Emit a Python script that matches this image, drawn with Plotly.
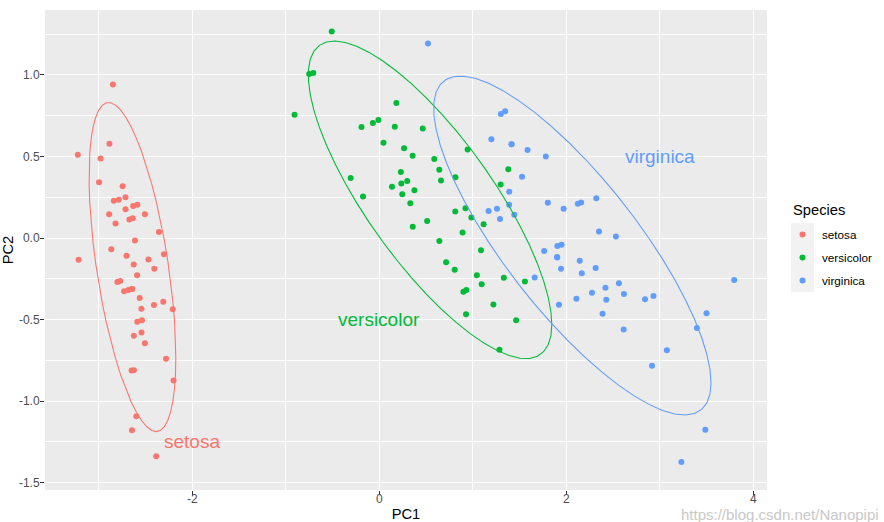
import numpy as np
import plotly.graph_objects as go

# ---------------- data (PC scores) ----------------
species = ["setosa", "versicolor", "virginica"]
colors = ["#F8766D", "#00BA38", "#619CFF"]

setosa_pc1 = [-2.684, -2.714, -2.889, -2.745, -2.729, -2.281, -2.821, -2.626, -2.886, -2.673,
              -2.507, -2.613, -2.786, -3.224, -2.645, -2.386, -2.624, -2.648, -2.200, -2.588,
              -2.310, -2.544, -3.216, -2.303, -2.356, -2.507, -2.469, -2.562, -2.640, -2.632,
              -2.587, -2.410, -2.649, -2.599, -2.637, -2.866, -2.625, -2.801, -2.981, -2.590,
              -2.770, -2.849, -2.997, -2.406, -2.209, -2.714, -2.538, -2.839, -2.543, -2.703]
setosa_pc2 = [-0.319, 0.177, 0.145, 0.318, -0.327, -0.741, 0.089, -0.163, 0.578, 0.114,
              -0.645, -0.015, 0.235, 0.511, -1.179, -1.338, -0.811, -0.312, -0.873, -0.514,
              -0.391, -0.433, -0.133, -0.099, 0.037, 0.146, -0.131, -0.368, -0.312, 0.197,
              0.204, -0.411, -0.813, -1.093, 0.121, -0.069, -0.599, -0.269, 0.488, -0.229,
              -0.264, 0.941, 0.342, -0.189, -0.437, 0.250, -0.504, 0.228, -0.579, -0.108]

versicolor_pc1 = [1.285, 0.932, 1.464, 0.183, 1.088, 0.642, 1.095, -0.749, 1.044, -0.009,
                  -0.508, 0.512, 0.265, 0.985, -0.174, 0.928, 0.660, 0.236, 0.945, 0.045,
                  1.116, 0.358, 1.298, 0.922, 0.715, 0.900, 1.332, 1.558, 0.813, -0.306,
                  -0.068, -0.190, 0.136, 1.380, 0.588, 0.807, 1.221, 0.815, 0.246, 0.166,
                  0.465, 0.891, 0.231, -0.705, 0.357, 0.332, 0.376, 0.643, -0.906, 0.299]
versicolor_pc2 = [-0.685, -0.318, -0.504, 0.828, -0.075, 0.418, -0.283, 1.005, -0.228, 0.723,
                  1.266, 0.104, 0.550, 0.125, 0.255, -0.467, 0.353, 0.334, 0.543, 0.584,
                  0.085, 0.069, 0.328, 0.183, -0.149, -0.329, -0.244, -0.267, 0.163, 0.368,
                  0.705, 0.680, 0.314, 0.421, 0.484, -0.194, -0.408, 0.372, 0.269, 0.682,
                  0.671, 0.034, 0.404, 1.012, 0.505, 0.213, 0.293, -0.018, 0.756, 0.349]

virginica_pc1 = [2.531, 1.415, 2.617, 1.972, 2.350, 3.397, 0.521, 2.933, 2.321, 2.917,
                 1.662, 1.803, 2.166, 1.346, 1.586, 1.904, 1.950, 3.487, 3.796, 1.301,
                 2.428, 1.199, 3.500, 1.389, 2.275, 2.614, 1.259, 1.291, 2.124, 2.388,
                 2.842, 3.231, 2.159, 1.444, 1.781, 3.076, 2.144, 1.905, 1.169, 2.108,
                 2.314, 1.922, 1.415, 2.563, 2.419, 1.944, 1.527, 1.764, 1.901, 1.390]
virginica_pc2 = [0.010, 0.575, -0.344, 0.180, 0.040, -0.551, 1.193, -0.356, 0.244, -0.783,
                 -0.242, 0.216, -0.216, 0.777, 0.540, -0.119, -0.042, -1.176, -0.257, 0.761,
                 -0.378, 0.606, -0.461, 0.204, -0.335, -0.561, 0.180, 0.117, 0.210, -0.465,
                 -0.375, -1.374, 0.217, 0.143, 0.500, -0.688, -0.140, -0.049, 0.165, -0.372,
                 -0.184, -0.409, 0.575, -0.278, -0.305, -0.188, 0.375, -0.079, -0.117, 0.283]

pc1 = [setosa_pc1, versicolor_pc1, virginica_pc1]
pc2 = [setosa_pc2, versicolor_pc2, virginica_pc2]

# label positions for species names on the plot
label_x = [-2.0, 0.0, 3.0]
label_y = [-1.25, -0.5, 0.5]


# ---------------- stat_ellipse (type = "t", level = 0.95) ----------------
def cov_trob(x, nu=5, maxit=25, tol=0.01):
    n, p = x.shape
    wt = np.ones(n)
    loc = x.mean(axis=0)
    w = np.sqrt(wt)
    X = x - loc
    for _ in range(maxit):
        w0 = w
        X = x - loc
        _, d, vt = np.linalg.svd(np.sqrt(w / w.sum())[:, None] * X, full_matrices=False)
        wX = X @ vt.T @ np.diag(1.0 / d)
        Q = (wX ** 2).sum(axis=1)
        w = (wt * (nu + p)) / (nu + Q)
        loc = (w[:, None] * x).sum(axis=0) / w.sum()
        if np.all(np.abs(w - w0) < tol):
            break
    sX = np.sqrt(w)[:, None] * X
    cov = sX.T @ sX / wt.sum()
    return cov, loc


def ellipse_path(xs, ys, level=0.95, segments=51):
    data = np.column_stack([xs, ys])
    cov, center = cov_trob(data)
    dfd = len(xs) - 1
    qf = (dfd / 2.0) * ((1 - level) ** (-2.0 / dfd) - 1.0)  # F(2, dfd) quantile
    radius = np.sqrt(2 * qf)
    R = np.linalg.cholesky(cov).T
    ang = np.arange(segments + 1) * 2 * np.pi / segments
    circ = np.column_stack([np.cos(ang), np.sin(ang)])
    pts = center + radius * (circ @ R)
    return pts[:, 0], pts[:, 1]


fig = go.Figure()
for i, sp in enumerate(species):
    fig.add_trace(go.Scatter(
        x=pc1[i], y=pc2[i], mode="markers", name=sp,
        marker=dict(color=colors[i], size=6, line=dict(width=0)),
        showlegend=False))
for i, sp in enumerate(species):
    ex, ey = ellipse_path(pc1[i], pc2[i])
    fig.add_trace(go.Scatter(
        x=ex, y=ey, mode="lines", line=dict(color=colors[i], width=1.07),
        showlegend=False, hoverinfo="skip"))

FONT = "Liberation Sans, Arial, sans-serif"
for i, sp in enumerate(species):
    fig.add_annotation(x=label_x[i], y=label_y[i], text=sp, showarrow=False,
                       font=dict(family=FONT, size=19, color=colors[i]),
                       xanchor="center", yanchor="middle")

# ---------------- layout ----------------
W, H = 884, 522
ML, MR, MT, MB = 45, 117, 10, 32
PW, PH = W - ML - MR, H - MT - MB


def pxx(px):
    return (px - ML) / PW


def pyy(py):
    return (H - MB - py) / PH


xt = [-2, 0, 2, 4]
yt = [-1.5, -1.0, -0.5, 0.0, 0.5, 1.0]

fig.update_layout(
    width=W, height=H, autosize=False,
    margin=dict(l=ML, r=MR, t=MT, b=MB, pad=0),
    paper_bgcolor="white", plot_bgcolor="#EBEBEB",
    showlegend=False,
    font=dict(family=FONT, color="#4D4D4D"),
    xaxis=dict(range=[-3.575, 4.147], tickmode="array", tickvals=xt,
               ticktext=[str(v) for v in xt],
               showgrid=True, gridcolor="white", gridwidth=1.07, zeroline=False,
               ticks="outside", ticklen=4, tickwidth=1, tickcolor="#333333",
               ticklabelstandoff=-6,
               tickfont=dict(size=12, color="#4D4D4D", family=FONT),
               minor=dict(tickmode="array", tickvals=[-3, -1, 1, 3], showgrid=True,
                          gridcolor="white", gridwidth=0.53, ticks=""),
               title=dict(text="PC1", font=dict(size=14.7, color="black", family=FONT), standoff=6),
               showline=False, automargin=False, fixedrange=True),
    yaxis=dict(range=[-1.545, 1.398], tickmode="array", tickvals=yt,
               ticktext=["%.1f" % v for v in yt],
               showgrid=True, gridcolor="white", gridwidth=1.07, zeroline=False,
               ticks="outside", ticklen=4, tickwidth=1, tickcolor="#333333",
               ticklabelstandoff=-2,
               tickfont=dict(size=12, color="#4D4D4D", family=FONT),
               minor=dict(tickmode="array", tickvals=[-1.25, -0.75, -0.25, 0.25, 0.75, 1.25],
                          showgrid=True, gridcolor="white", gridwidth=0.53, ticks=""),
               title=dict(text="PC2", font=dict(size=14.7, color="black", family=FONT), standoff=6),
               showline=False, automargin=False, fixedrange=True),
)

# ---------------- legend (ggplot style) ----------------
fig.add_annotation(xref="paper", yref="paper", x=pxx(791), y=pyy(210), text="Species",
                   showarrow=False, xanchor="left", yanchor="middle",
                   font=dict(family=FONT, size=14.7, color="black"))
fig.add_shape(type="rect", xref="paper", yref="paper", x0=pxx(791), x1=pxx(814),
              y0=pyy(223), y1=pyy(292), fillcolor="#F2F2F2", line=dict(width=0), layer="below")
for i, sp in enumerate(species):
    cy = 234.5 + 23 * i
    fig.add_shape(type="circle", xref="paper", yref="paper", xsizemode="pixel", ysizemode="pixel",
                  xanchor=pxx(802.5), yanchor=pyy(cy), x0=-3, x1=3, y0=-3, y1=3,
                  fillcolor=colors[i], line=dict(width=0))
    fig.add_annotation(xref="paper", yref="paper", x=pxx(820), y=pyy(cy), text=sp,
                       showarrow=False, xanchor="left", yanchor="middle",
                       font=dict(family=FONT, size=11.7, color="black"))

# watermark
fig.add_annotation(xref="paper", yref="paper", x=pxx(881), y=pyy(514),
                   text="https://blog.csdn.net/Nanopipi", showarrow=False,
                   xanchor="right", yanchor="middle",
                   font=dict(family=FONT, size=15, color="#C8C8C8"))

fig.write_html("out.html")
